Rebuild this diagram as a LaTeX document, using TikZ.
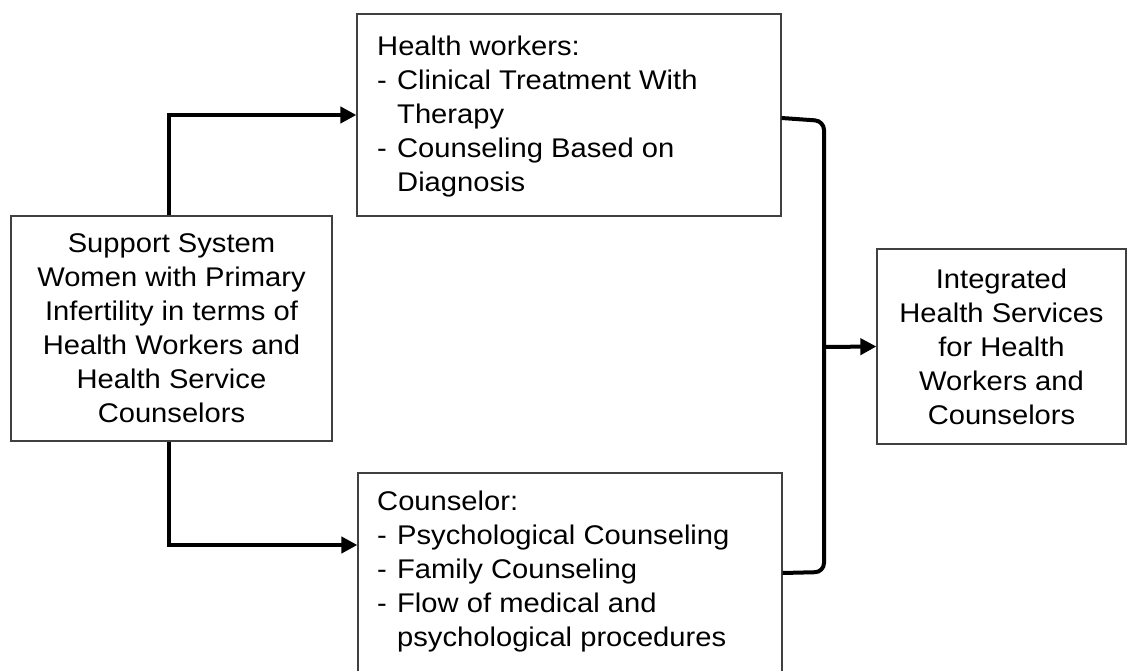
\documentclass[tikz,border=0pt]{standalone}
\usepackage{fontspec}
\setmainfont{Liberation Sans}[FakeStretch=1.08]
\usetikzlibrary{arrows.meta}
\newcommand\dashitem[1]{\makebox[20pt][l]{-}#1}
\newcommand\contline[1]{\hspace*{20pt}#1}
\begin{document}
\begin{tikzpicture}[x=1pt,y=-1pt,
  box/.style={draw=black!75, line width=1.2pt, inner sep=0pt},
  txt/.style={inner sep=0pt, font=\fontsize{27}{34}\selectfont, align=left},
  ctxt/.style={inner sep=0pt, font=\fontsize{27}{34}\selectfont, align=center},
  conn/.style={line width=4pt, -{Triangle[length=16pt,width=16pt]}},
  bracket/.style={line width=4pt, rounded corners=9pt}]
\useasboundingbox (0,0) rectangle (1127,671);
% boxes
\node[box, ctxt, minimum width=321pt, minimum height=225pt] (src) at (171.5,328.5)
  {Support System\\Women with Primary\\Infertility in terms of\\Health Workers and\\Health Service\\Counselors};
\node[box, minimum width=424pt, minimum height=202pt] (hw) at (569,115) {};
\node[txt, anchor=north west] (hwt) at (377,36)
  {Health workers:\\\dashitem{Clinical Treatment With}\\\contline{Therapy}\\\dashitem{Counseling Based on}\\\contline{Diagnosis}};
\node[box, minimum width=424pt, minimum height=227pt] (cw) at (570,586.5) {};
\node[txt, anchor=north west] (cwt) at (377,491)
  {Counselor:\\\dashitem{Psychological Counseling}\\\dashitem{Family Counseling}\\\dashitem{Flow of medical and}\\\contline{psychological procedures}};
\node[box, ctxt, minimum width=249pt, minimum height=195pt] (out) at (1001.5,346.5)
  {Integrated\\Health Services\\for Health\\Workers and\\Counselors};
% connectors
\draw[conn] ([xshift=-2.5pt]src.north) |- (hw.west);
\draw[conn] ([xshift=-2.5pt]src.south) |- ([yshift=41.5pt]cw.west);
\coordinate (jt) at (824,121);
\coordinate (jb) at (824,572);
\coordinate (jm) at (824,347);
\draw[bracket] ([yshift=-3pt]hw.east) -- (jt) -- (jb) -- ([yshift=13.5pt]cw.east);
\draw[conn] (jm) -- (out.west);
\end{tikzpicture}
\end{document}
